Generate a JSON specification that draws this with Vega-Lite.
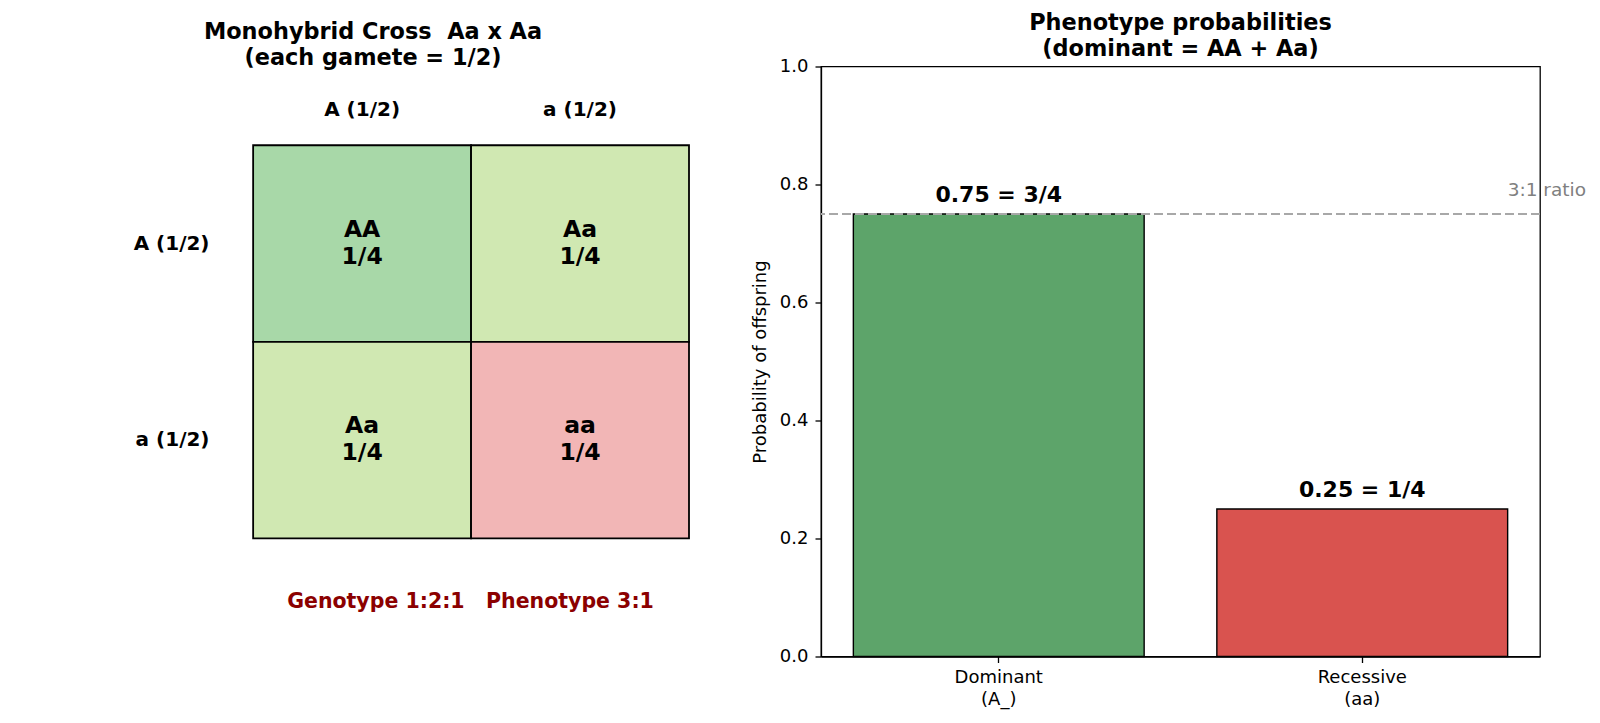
{
  "$schema": "https://vega.github.io/schema/vega-lite/v6.json",
  "padding": {"left": 57, "top": 10.5, "right": 5, "bottom": 5},
  "background": "white",
  "spacing": 60,
  "config": {
    "font": "DejaVu Sans",
    "view": {"stroke": null},
    "axis": {
      "labelFont": "DejaVu Sans", "titleFont": "DejaVu Sans",
      "labelColor": "black", "titleColor": "black",
      "tickColor": "black", "domainColor": "black",
      "labelFontSize": 18, "titleFontSize": 18, "titleFontWeight": "normal",
      "grid": false
    },
    "title": {"font": "DejaVu Sans", "fontSize": 22.4, "fontWeight": "bold", "color": "black", "lineHeight": 26, "offset": -3}
  },
  "resolve": {"scale": {"color": "independent"}},
  "hconcat": [
    {
      "width": 632,
      "height": 590,
      "title": {"text": ["Monohybrid Cross\u00a0 Aa x Aa", "(each gamete = 1/2)"]},
      "data": {"values": [
        {"p1": "A (1/2)", "p2": "A (1/2)", "genotype": "AA", "cell": "AA\n1/4"},
        {"p1": "a (1/2)", "p2": "A (1/2)", "genotype": "Aa", "cell": "Aa\n1/4"},
        {"p1": "A (1/2)", "p2": "a (1/2)", "genotype": "Aa", "cell": "Aa\n1/4"},
        {"p1": "a (1/2)", "p2": "a (1/2)", "genotype": "aa", "cell": "aa\n1/4"}
      ]},
      "encoding": {
        "x": {
          "field": "p1", "type": "nominal", "sort": ["A (1/2)", "a (1/2)"],
          "scale": {"type": "band", "paddingInner": 0, "paddingOuter": 0.45, "align": 1},
          "axis": {"orient": "top", "title": null, "ticks": false, "domain": false, "labelAngle": 0,
                   "labelBaseline": "middle", "labelPadding": 0, "offset": -43,
                   "labelFontSize": 20, "labelFontWeight": "bold"}
        },
        "y": {
          "field": "p2", "type": "nominal", "sort": ["A (1/2)", "a (1/2)"],
          "scale": {"type": "band", "paddingInner": 0, "paddingOuter": 0.501, "align": 0.4},
          "axis": {"orient": "left", "ticks": false, "domain": false, "labelPadding": 0, "offset": -152,
                   "labelFontSize": 20, "labelFontWeight": "bold", "labelAlign": "right",
                   "title": "Genotype 1:2:1\u00a0\u00a0 Phenotype 3:1", "titleAngle": 0,
                   "titleX": 261, "titleY": 535, "titleAlign": "center", "titleBaseline": "middle",
                   "titleColor": "#8B0000", "titleFontSize": 20.5, "titleFontWeight": "bold"}
        }
      },
      "layer": [
        {
          "mark": {"type": "rect", "stroke": "black", "strokeWidth": 1.8},
          "encoding": {
            "color": {"field": "genotype", "type": "nominal",
                      "scale": {"domain": ["AA", "Aa", "aa"], "range": ["#A8D8A8", "#D0E8B2", "#F2B6B6"]},
                      "legend": null}
          }
        },
        {
          "mark": {"type": "text", "fontSize": 23.5, "fontWeight": "bold", "lineBreak": "\n", "lineHeight": 27, "dy": -14, "color": "black"},
          "encoding": {"text": {"field": "cell", "type": "nominal"}}
        }
      ]
    },
    {
      "width": 719,
      "height": 590,
      "view": {"stroke": "black", "strokeWidth": 1.3},
      "title": {"text": ["Phenotype probabilities", "(dominant = AA + Aa)"]},
      "data": {"values": [
        {"phenotype": "Dominant\n(A_)", "prob": 0.75, "label": "0.75 = 3/4"},
        {"phenotype": "Recessive\n(aa)", "prob": 0.25, "label": "0.25 = 1/4"}
      ]},
      "layer": [
        {
          "mark": {"type": "bar", "stroke": "black", "strokeWidth": 1.4},
          "encoding": {
            "x": {"field": "phenotype", "type": "nominal", "sort": null,
                  "scale": {"type": "band", "paddingInner": 0.2, "paddingOuter": 0.089},
                  "axis": {"title": null, "labelAngle": 0, "tickSize": 6, "tickWidth": 1.3, "domainWidth": 1.3,
                           "labelPadding": 6, "labelLineHeight": 22,
                           "labelExpr": "split(datum.label, '\\n')"}},
            "y": {"field": "prob", "type": "quantitative",
                  "scale": {"domain": [0, 1]},
                  "axis": {"title": "Probability of offspring", "values": [0, 0.2, 0.4, 0.6, 0.8, 1.0],
                           "format": ".1f", "tickSize": 6, "tickWidth": 1.3, "domainWidth": 1.3,
                           "labelPadding": 7, "titlePadding": 10}},
            "color": {"field": "phenotype", "type": "nominal",
                      "scale": {"domain": ["Dominant\n(A_)", "Recessive\n(aa)"], "range": ["#5DA46A", "#D9534F"]}, "legend": null}
          }
        },
        {
          "mark": {"type": "rule", "color": "#A8A8A8", "strokeDash": [9, 4], "strokeWidth": 2},
          "encoding": {"y": {"datum": 0.75, "type": "quantitative"}}
        },
        {
          "mark": {"type": "text", "fontSize": 22, "fontWeight": "bold", "baseline": "alphabetic", "dy": -12, "color": "black"},
          "encoding": {
            "x": {"field": "phenotype", "type": "nominal", "sort": null,
                  "scale": {"type": "band", "paddingInner": 0.2, "paddingOuter": 0.089}, "axis": null},
            "y": {"field": "prob", "type": "quantitative"},
            "text": {"field": "label", "type": "nominal"}
          }
        },
        {
          "data": {"values": [{"note": "3:1 ratio", "xpos": 1.41, "ypos": 0.78}]},
          "mark": {"type": "text", "align": "left", "baseline": "alphabetic", "fontSize": 18.5, "color": "#808080"},
          "encoding": {
            "x": {"field": "xpos", "type": "quantitative", "scale": {"domain": [-0.5, 1.5], "nice": false, "zero": false}, "axis": null},
            "y": {"field": "ypos", "type": "quantitative"},
            "text": {"field": "note", "type": "nominal"}
          }
        }
      ],
      "resolve": {"scale": {"x": "independent"}}
    }
  ]
}
